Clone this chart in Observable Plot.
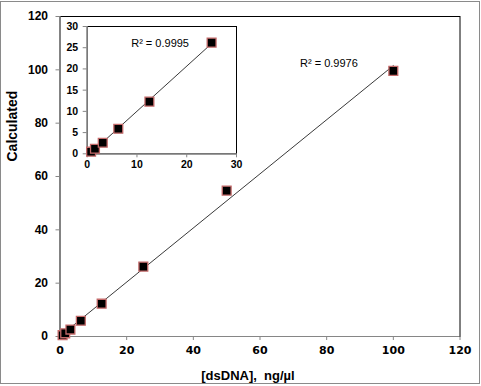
<!DOCTYPE html>
<html>
<head>
<meta charset="utf-8">
<script src="https://cdn.jsdelivr.net/npm/d3@7"></script>
<script src="https://cdn.jsdelivr.net/npm/@observablehq/plot@0.6"></script>
<style>
  html, body { margin: 0; padding: 0; background: white; }
  #wrap { position: relative; width: 481px; height: 386px; overflow: hidden; }
  #border { position: absolute; left: 0; top: 1px; width: 480px; height: 383px; box-sizing: border-box; border: 1px solid #8a8a8a; pointer-events: none; }
  #main, #inset { position: absolute; }
  #main { left: 0; top: 0; }
  #inset { left: 56px; top: 12px; }
</style>
</head>
<body>
<div id="wrap">
  <div id="main"></div>
  <div id="inset"></div>
  <div id="border"></div>
</div>
<script>
// Data
const concentration = [0.78, 1.56, 3.125, 6.25, 12.5, 25, 50, 100];
const calculated    = [0.5, 1.2, 2.6, 5.9, 12.3, 26.2, 54.7, 99.6];
const mainTicks  = [0, 20, 40, 60, 80, 100, 120];
const insetXTicks = [0, 10, 20, 30];
const insetYTicks = [0, 5, 10, 15, 20, 25, 30];
const mainR2Label  = ["R² = 0.9976"];
const insetR2Label = ["R² = 0.9995"];
const xLabel = "[dsDNA],  ng/µl";
const yLabel = "Calculated";
const insetMaxX = 30;

const data = concentration.map((x, i) => ({x, y: calculated[i]}));
const insetData = data.filter(d => d.x <= insetMaxX);

const axisGrey = "#868686";
const markerFill = "black";
const markerStroke = "#c46a6a";

// Main chart
const main = Plot.plot({
  width: 481,
  height: 386,
  marginLeft: 59.5,
  marginRight: 21.5,
  marginTop: 16,
  marginBottom: 50,
  style: {background: "transparent", overflow: "visible"},
  x: {domain: [0, 120], axis: null},
  y: {domain: [0, 120], axis: null},
  marks: [
    Plot.frame({stroke: "black", strokeWidth: 1}),
    Plot.ruleX([0], {stroke: axisGrey, strokeWidth: 1.2}),
    Plot.ruleY([0], {stroke: axisGrey, strokeWidth: 1.2}),
    Plot.axisX(mainTicks, {anchor: "bottom", tickSize: 4, tickPadding: 6, stroke: axisGrey, fill: "black",
      fontFamily: "DejaVu Sans", fontWeight: "bold", fontSize: 11, label: null}),
    Plot.axisY(mainTicks, {anchor: "left", tickSize: 4, tickPadding: 8, stroke: axisGrey, fill: "black",
      fontFamily: "Liberation Sans", fontWeight: "bold", fontSize: 12, label: null}),
    Plot.text([yLabel], {frameAnchor: "left", rotate: -90, dx: -47.5, dy: -15, text: d => d,
      fontFamily: "Liberation Sans", fontWeight: "bold", fontSize: 14, fill: "black"}),
    Plot.text([xLabel], {frameAnchor: "bottom", dx: -12, dy: 39, text: d => d, lineAnchor: "middle",
      fontFamily: "Liberation Sans", fontWeight: "bold", fontSize: 13, fill: "black"}),
    Plot.linearRegressionY(data, {x: "x", y: "y", stroke: "#222", strokeWidth: 0.9, ci: 0}),
    Plot.dot(data, {x: "x", y: "y", symbol: "square", r: 5, fill: markerFill, stroke: markerStroke, strokeWidth: 1.3}),
    Plot.text(mainR2Label, {x: [72], y: [102.3], text: d => d, textAnchor: "start",
      fontFamily: "Liberation Sans", fontSize: 11, fill: "black"})
  ]
});
document.getElementById("main").appendChild(main);

// Inset chart
const inset = Plot.plot({
  width: 194,
  height: 170,
  marginLeft: 30.7,
  marginRight: 14,
  marginTop: 14,
  marginBottom: 28.7,
  style: {background: "transparent", overflow: "visible"},
  x: {domain: [0, 30], axis: null},
  y: {domain: [0, 30], axis: null},
  marks: [
    Plot.frame({stroke: "black", strokeWidth: 1}),
    Plot.ruleX([0], {stroke: axisGrey, strokeWidth: 1.2}),
    Plot.ruleY([0], {stroke: axisGrey, strokeWidth: 1.2}),
    Plot.axisX(insetXTicks, {anchor: "bottom", tickSize: 4, tickPadding: 3, stroke: axisGrey, fill: "black",
      fontFamily: "Liberation Sans", fontWeight: "bold", fontSize: 10.5, label: null}),
    Plot.axisY(insetYTicks, {anchor: "left", tickSize: 4, tickPadding: 5, stroke: axisGrey, fill: "black",
      fontFamily: "Liberation Sans", fontWeight: "bold", fontSize: 10.5, label: null}),
    Plot.linearRegressionY(insetData, {x: "x", y: "y", stroke: "#222", strokeWidth: 0.9, ci: 0}),
    Plot.dot(insetData, {x: "x", y: "y", symbol: "square", r: 5, fill: markerFill, stroke: markerStroke, strokeWidth: 1.3}),
    Plot.text(insetR2Label, {x: [8.84], y: [25.9], text: d => d, textAnchor: "start",
      fontFamily: "Liberation Sans", fontSize: 11, fill: "black"})
  ]
});
document.getElementById("inset").appendChild(inset);
</script>
</body>
</html>
